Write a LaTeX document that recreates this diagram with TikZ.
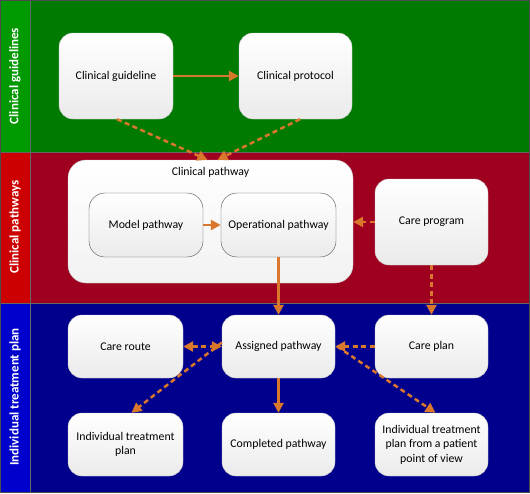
\documentclass[tikz,border=0pt]{standalone}
\usepackage{fontspec}
\setmainfont{Carlito}
\usetikzlibrary{arrows.meta}
\definecolor{greenstrip}{RGB}{0,154,0}
\definecolor{greenband}{RGB}{0,122,0}
\definecolor{redstrip}{RGB}{204,0,0}
\definecolor{redband}{RGB}{160,0,32}
\definecolor{bluestrip}{RGB}{0,0,204}
\definecolor{blueband}{RGB}{0,0,140}
\definecolor{arrorange}{RGB}{217,120,45}

\begin{document}
\begin{tikzpicture}[x=1pt,y=-1pt,
  box/.style={draw=gray!45, rounded corners=14pt, top color=white, bottom color=black!8,
    align=center, inner sep=0pt, font=\fontsize{11.8}{14.5}\selectfont},
  innerbox/.style={box, draw=black!70, rounded corners=16pt},
  bandlabel/.style={rotate=90, text=white, font=\fontsize{13}{15}\selectfont\bfseries},
  tip/.style={-{Triangle[length=10pt,width=10pt]}},
  flow/.style={arrorange, line width=2.5pt, tip},
  dflow/.style={flow, dash pattern=on 5pt off 3.5pt}]
\useasboundingbox (0,0) rectangle (530,493);
% bands
\fill [greenband] (0,0) rectangle (530,152);
\fill [redband] (0,152) rectangle (530,303);
\fill [blueband] (0,303) rectangle (530,493);
\fill [greenstrip] (0,0) rectangle (30,152);
\fill [redstrip] (0,152) rectangle (30,303);
\fill [bluestrip] (0,303) rectangle (30,493);
\draw [black!60, thin] (0,152) -- (530,152);
\draw [black!60, thin] (0,303) -- (530,303);
\draw [black!60, thin] (30,0) -- (30,493);
\draw [black!70, thin] (0.5,0.5) rectangle (529.5,492.5);
\node [bandlabel] (lblguide) at (15,76) {Clinical guidelines};
\node [bandlabel] (lblpath) at (15,227) {Clinical pathways};
\node [bandlabel] (lblplan) at (15,397) {Individual treatment plan};
% clinical guidelines
\node [box, minimum width=114pt, minimum height=86pt] (guide) at (116,76) {Clinical guideline};
\node [box, minimum width=113pt, minimum height=86pt] (protocol) at (295.5,76) {Clinical protocol};
% clinical pathways
\node [box, rounded corners=18pt, bottom color=black!5, minimum width=285pt, minimum height=123pt] (cpath) at (210.5,221.5) {};
\node [font=\fontsize{11.8}{14.5}\selectfont] (cpathlbl) at (210.5,172) {Clinical pathway};
\node [innerbox, minimum width=114pt, minimum height=64pt] (model) at (146,225) {Model pathway};
\node [innerbox, minimum width=115pt, minimum height=64pt] (oper) at (278.5,225) {Operational pathway};
\node [box, minimum width=113pt, minimum height=86pt] (careprog) at (431.5,222) {Care program};
% individual treatment plan
\node [box, minimum width=115pt, minimum height=63pt] (route) at (125.5,346.5) {Care route};
\node [box, minimum width=113pt, minimum height=63pt] (assigned) at (278.5,346.5) {Assigned pathway};
\node [box, minimum width=113pt, minimum height=63pt] (careplan) at (431.5,346.5) {Care plan};
\node [box, minimum width=115pt, minimum height=63pt] (itp) at (125.5,444.5) {Individual treatment\\plan};
\node [box, minimum width=113pt, minimum height=63pt] (completed) at (278.5,444.5) {Completed pathway};
\node [box, minimum width=113pt, minimum height=63pt] (itppat) at (431.5,444.5) {Individual treatment\\plan from a patient\\point of view};
% connectors
\draw [flow] (guide) -- (protocol);
\draw [dflow] ([xshift=1pt]guide.south) -- ([xshift=-3pt]cpath.north);
\draw [dflow] ([xshift=4.5pt]protocol.south) -- ([xshift=7pt]cpath.north);
\draw [flow] (model) -- (oper);
\draw [dflow] (careprog.west) -- (cpath.east |- careprog.west);
\draw [flow] (oper) -- (assigned);
\draw [dflow] (careprog) -- (careplan);
\draw [dflow, {Triangle[length=10pt,width=10pt]}-{Triangle[length=10pt,width=10pt]}] (route) -- (assigned);
\draw [dflow] (careplan) -- (assigned);
\draw [dflow] ([yshift=4pt]assigned.west) -- ([xshift=6pt]itp.north);
\draw [dflow] ([xshift=2pt]assigned.east) -- ([xshift=4pt]itppat.north);
\draw [flow] (assigned) -- (completed);
\end{tikzpicture}
\end{document}
